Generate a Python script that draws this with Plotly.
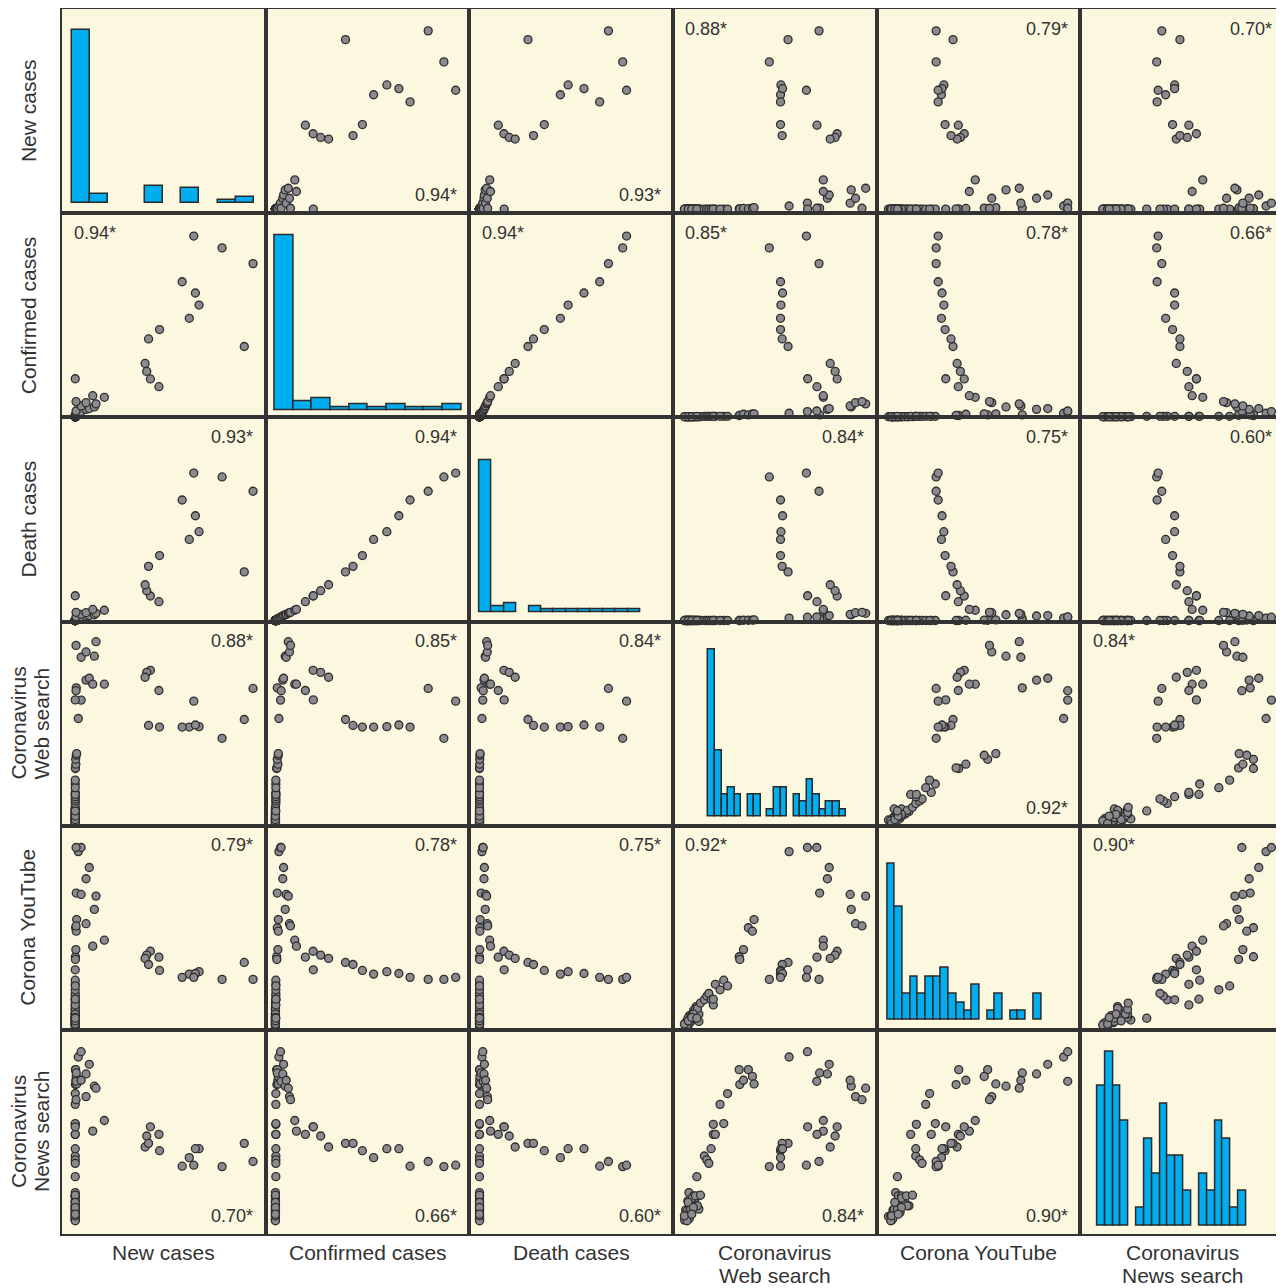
import plotly.graph_objects as go
from plotly.subplots import make_subplots

# ---------------- data (index units) ----------------
var_labels = [["New cases"], ["Confirmed cases"], ["Death cases"],
              ["Coronavirus", "Web search"], ["Corona YouTube"], ["Coronavirus", "News search"]]

# daily observations: quiet period, early search surge, rising arm, outbreak start, growth
confirmed_cases = [
    4.8, 4.8, 4.8, 4.8, 4.8, 4.8, 4.8, 4.8, 4.8, 4.8, 4.8, 4.8, 4.8, 4.8, 4.8, 4.8,
    4.8, 4.8, 4.8, 4.8, 4.8, 4.8, 4.8, 4.8, 4.8, 4.8, 4.8, 4.8, 4.8, 4.8, 4.8,
    5.0, 5.0, 5.0, 5.0, 5.0, 5.0, 5.0, 5.0, 5.0, 5.0, 5.0,
    5.4, 5.5, 6.0, 5.7, 6.2, 6.2,
    5.7, 6.5, 7.3, 7.6, 8.4, 8.8, 9.6, 10.1, 11.1, 11.7, 12.2, 14.3, 15.1,
    19.5, 23.3, 23.4, 27.0, 30.9, 39.2, 42.9, 47.5, 53.0, 59.5, 65.4, 70.9, 79.8, 87.5, 93.3]

new_cases = [
    6.5, 6.5, 6.5, 6.5, 6.5, 6.5, 6.5, 6.5, 6.5, 6.5, 6.5, 6.5, 6.5, 6.5, 6.5, 6.5,
    6.5, 6.5, 6.5, 6.5, 6.5, 6.5, 6.5, 6.5, 6.5, 6.5, 6.5, 6.5, 6.5, 6.5, 6.5,
    6.5, 6.5, 6.5, 6.5, 6.5, 6.5, 6.5, 6.5, 6.5, 6.5, 6.5,
    6.6, 6.6, 6.8, 6.7, 7.0, 7.2,
    7.0, 8.0, 9.4, 6.9, 11.8, 13.4, 15.9, 9.4, 16.7, 11.8, 6.9, 20.8, 15.1,
    47.6, 43.4, 6.5, 41.6, 40.8, 89.5, 42.5, 47.9, 62.5, 67.3, 65.5, 59.0, 93.8, 78.6, 64.7]

death_cases = [
    5.0, 5.0, 5.0, 5.0, 5.0, 5.0, 5.0, 5.0, 5.0, 5.0, 5.0, 5.0, 5.0, 5.0, 5.0, 5.0,
    5.0, 5.0, 5.0, 5.0, 5.0, 5.0, 5.0, 5.0, 5.0, 5.0, 5.0, 5.0, 5.0, 5.0, 5.0,
    5.0, 5.0, 5.0, 5.0, 5.0, 5.0, 5.0, 5.0, 5.0, 5.0, 5.0,
    5.0, 5.0, 5.1, 5.1, 5.2, 5.3,
    5.8, 6.2, 6.6, 6.8, 7.2, 7.4, 7.8, 8.0, 8.5, 8.8, 9.0, 10.0, 10.4,
    14.2, 17.0, 17.1, 19.6, 22.5, 28.8, 31.5, 36.8, 44.7, 48.5, 56.3, 64.0, 68.3, 75.3, 77.2]

web_search = [
    6.0, 6.5, 5.7, 7.3, 6.8, 8.5, 6.2, 7.0, 8.1, 7.3, 8.9, 10.1, 10.6, 7.8, 10.1, 12.7,
    11.4, 11.4, 12.7, 9.0, 8.0, 6.9, 5.6, 9.5, 11.0, 12.0, 13.5, 8.6, 7.5, 10.0, 9.2,
    11.7, 15.4, 16.6, 17.6, 18.7, 19.8, 20.8, 19.8, 24.9, 23.1, 26.8,
    32.5, 32.8, 34.6, 37.0, 39.0, 39.8,
    72.0, 57.0, 66.0, 70.6, 75.8, 76.7, 87.5, 87.0, 94.6, 89.6, 92.8, 73.8, 73.8,
    70.7, 80.6, 66.1, 79.6, 77.2, 56.5, 53.6, 52.8, 52.8, 53.0, 53.8, 52.8, 71.7, 47.3, 65.5]

youtube = [
    7.0, 7.5, 7.4, 5.8, 6.9, 8.2, 8.0, 8.6, 11.5, 10.2, 9.7, 13.9, 12.6, 9.3, 10.6, 12.2,
    15.9, 9.7, 8.6, 11.0, 8.0, 6.9, 7.3, 12.2, 14.6, 15.0, 17.6, 10.2, 8.9, 12.2, 10.6,
    10.2, 19.2, 21.1, 22.3, 19.2, 16.7, 26.8, 19.5, 28.8, 24.1, 26.0,
    40.3, 39.0, 43.8, 54.5, 52.8, 58.5,
    71.5, 91.8, 93.8, 93.8, 78.5, 84.0, 63.5, 70.8, 70.0, 56.5, 55.4, 48.4, 45.5,
    40.1, 43.0, 33.9, 41.1, 39.5, 37.5, 36.5, 33.6, 31.8, 33.0, 32.1, 30.2, 29.2, 29.2, 30.2]

news_search = [
    11.5, 12.0, 11.3, 13.1, 13.4, 14.7, 16.2, 15.9, 15.1, 20.8, 14.7, 20.0, 20.0, 24.8, 23.2, 23.2,
    18.3, 17.5, 16.7, 18.3, 12.1, 11.0, 13.4, 22.1, 23.2, 18.3, 23.5, 16.7, 20.0, 17.5, 14.2,
    32.6, 42.7, 40.8, 39.1, 46.3, 53.3, 53.3, 58.2, 58.6, 68.0, 73.3,
    85.0, 77.7, 79.8, 85.0, 81.7, 78.0,
    83.4, 91.2, 93.8, 79.3, 82.9, 87.6, 76.9, 79.8, 75.9, 71.8, 70.3, 60.1, 54.9,
    53.3, 57.0, 57.0, 52.5, 47.1, 48.9, 48.9, 45.3, 41.9, 46.3, 46.3, 37.7, 40.0, 37.5, 38.2]

# correlation labels
corr = [
    [None, 0.94, 0.93, 0.88, 0.79, 0.70],
    [0.94, None, 0.94, 0.85, 0.78, 0.66],
    [0.93, 0.94, None, 0.84, 0.75, 0.60],
    [0.88, 0.85, 0.84, None, 0.92, 0.84],
    [0.79, 0.78, 0.75, 0.92, None, 0.90],
    [0.70, 0.66, 0.60, 0.84, 0.90, None],
]
corr_corner = [
    ["", "BR", "BR", "TL", "TR", "TR"],
    ["TL", "", "TL", "TL", "TR", "TR"],
    ["TR", "TR", "", "TR", "TR", "TR"],
    ["TR", "TR", "TR", "", "BR", "TL"],
    ["TR", "TR", "TR", "TL", "", "TL"],
    ["BR", "BR", "BR", "BR", "BR", ""],
]

# histograms (bin start, bin width, counts) per variable
hist_bin_start = [4.9, 4.4, 4.9, 17.4, 5.2, 8.3]
hist_bin_width = [8.94, 9.17, 6.08, 3.22, 3.78, 3.85]
hist_new = [61, 3, 0, 0, 6, 0, 5, 0, 1, 2]
hist_confirmed = [59, 3, 4, 1, 2, 1, 2, 1, 1, 2]
hist_death = [52, 2, 3, 0, 2, 1, 1, 1, 1, 1, 1, 1, 1]
hist_web = [23, 9, 3, 4, 3, 0, 3, 3, 0, 1, 4, 4, 0, 3, 2, 5, 3, 1, 2, 2, 1]
hist_youtube = [18, 13, 3, 5, 3, 5, 5, 6, 3, 2, 1, 4, 0, 1, 3, 0, 1, 1, 0, 3]
hist_news = [8, 10, 8, 6, 0, 1, 5, 3, 7, 4, 4, 2, 0, 3, 2, 6, 5, 1, 2]

# ---------------- styling ----------------
BG = "#FCF7DF"
EDGE = "#333333"
FONT = "Liberation Sans, Arial, Helvetica, sans-serif"
TXT = "#333333"
hist_base_frac = [0.052, 0.036, 0.044, 0.046, 0.05, 0.041]
hist_top_frac = [0.898, 0.892, 0.789, 0.865, 0.813, 0.894]

data = [new_cases, confirmed_cases, death_cases, web_search, youtube, news_search]
hists = [hist_new, hist_confirmed, hist_death, hist_web, hist_youtube, hist_news]

fig = make_subplots(rows=6, cols=6, horizontal_spacing=0, vertical_spacing=0)

for r in range(6):
    for c in range(6):
        idx = r * 6 + c + 1
        if r == c:
            counts = hists[r]
            xs, ys = [], []
            for k, v in enumerate(counts):
                if v > 0:
                    xs.append(hist_bin_start[r] + (k + 0.5) * hist_bin_width[r])
                    ys.append(v)
            fig.add_trace(go.Bar(x=xs, y=ys, width=hist_bin_width[r],
                                 marker=dict(color="#00AEEF", line=dict(color="#2a2a2a", width=1.5)),
                                 showlegend=False, hoverinfo="skip"),
                          row=r + 1, col=c + 1)
            cmax = max(counts)
            span = cmax / (hist_top_frac[r] - hist_base_frac[r])
            lo = -hist_base_frac[r] * span
            fig.update_yaxes(range=[lo, lo + span], row=r + 1, col=c + 1)
        else:
            fig.add_trace(go.Scatter(x=data[c], y=data[r], mode="markers",
                                     marker=dict(size=8, color="#8b8b8f",
                                                 line=dict(color="#2e2e2e", width=1.3)),
                                     cliponaxis=False, showlegend=False, hoverinfo="skip"),
                          row=r + 1, col=c + 1)
            fig.update_yaxes(range=[4.5, 104.5], row=r + 1, col=c + 1)
            corner = corr_corner[r][c]
            txt = f"{corr[r][c]:.2f}*"
            xr = "x domain" if idx == 1 else f"x{idx} domain"
            yr = "y domain" if idx == 1 else f"y{idx} domain"
            if corner == "TL":
                ax, ay, xa, ya = 0.05, 0.962, "left", "top"
            elif corner == "TR":
                ax, ay, xa, ya = 0.95, 0.962, "right", "top"
            else:
                ax, ay, xa, ya = 0.95, 0.03, "right", "bottom"
            fig.add_annotation(x=ax, y=ay, xref=xr, yref=yr, xanchor=xa, yanchor=ya,
                               text=txt, showarrow=False,
                               font=dict(family=FONT, size=18, color=TXT))
        fig.update_xaxes(range=[0, 100], row=r + 1, col=c + 1)

fig.update_xaxes(showticklabels=False, ticks="", showgrid=False, zeroline=False,
                 showline=True, mirror=True, linecolor=EDGE, linewidth=1.5)
fig.update_yaxes(showticklabels=False, ticks="", showgrid=False, zeroline=False,
                 showline=True, mirror=True, linecolor=EDGE, linewidth=1.5)

# variable labels (each text line placed on its own)
bottom_line_shift = [-18, -41]
left_single_shift = -34
left_double_shift = [-43, -20]
for k, lines in enumerate(var_labels):
    for li, line in enumerate(lines):
        fig.add_annotation(x=(k + 0.5) / 6, y=0, xref="paper", yref="paper",
                           xanchor="center", yanchor="middle", yshift=bottom_line_shift[li],
                           text=line, showarrow=False,
                           font=dict(family=FONT, size=21, color=TXT))
        xs_ = left_single_shift if len(lines) == 1 else left_double_shift[li]
        fig.add_annotation(x=0, y=1 - (k + 0.5) / 6, xref="paper", yref="paper",
                           xanchor="center", yanchor="middle", xshift=xs_, textangle=-90,
                           text=line, showarrow=False,
                           font=dict(family=FONT, size=21, color=TXT))

# the page places the figure 8px from the window's top-left corner
fig.update_layout(width=1276, height=1280,
                  margin=dict(l=54, r=0, t=1, b=54),
                  paper_bgcolor="white", plot_bgcolor=BG,
                  bargap=0, showlegend=False)

fig.write_html("out.html")
